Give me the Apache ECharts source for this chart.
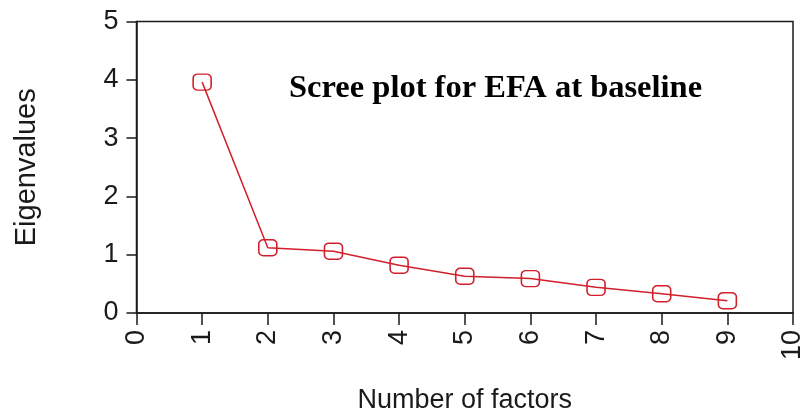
<!DOCTYPE html>
<html>
<head>
<meta charset="utf-8">
<script src="https://cdn.jsdelivr.net/npm/echarts@6/dist/echarts.min.js"></script>
<style>
  html, body { margin: 0; padding: 0; background: #fff; }
  #chart { width: 803px; height: 415px; }
</style>
</head>
<body>
<div id="chart"></div>
<script>
// Factor number and its eigenvalue
const factors = [1, 2, 3, 4, 5, 6, 7, 8, 9];
const eigenvalues = [3.96, 1.12, 1.06, 0.82, 0.63, 0.59, 0.44, 0.33, 0.21];

const titleText = 'Scree plot for EFA at baseline';
const xName = 'Number of factors';
const yName = 'Eigenvalues';

const red = '#d21f2c';
const ink = '#1a1a1a';

const chart = echarts.init(document.getElementById('chart'), null, { renderer: 'canvas' });

chart.setOption({
  animation: false,
  backgroundColor: '#fff',
  title: {
    text: titleText,
    left: 289,
    top: 72,
    padding: 0,
    textStyle: {
      fontFamily: 'Liberation Serif',
      fontWeight: 'bold',
      fontSize: 32.5,
      color: '#000'
    }
  },
  grid: {
    left: 136.5,
    right: 10,
    top: 21.5,
    bottom: 102,
    containLabel: false,
    outerBoundsMode: 'none',
    show: true,
    borderColor: ink,
    borderWidth: 1.5,
    backgroundColor: '#fff'
  },
  xAxis: {
    type: 'value',
    min: 0,
    max: 10,
    interval: 1,
    name: xName,
    nameLocation: 'middle',
    nameGap: 74,
    nameTextStyle: { fontFamily: 'Liberation Sans', fontSize: 27, color: ink },
    axisLine: { show: true, lineStyle: { color: ink, width: 1.5 } },
    axisTick: { show: true, length: 12, lineStyle: { color: ink, width: 1.5 } },
    axisLabel: {
      rotate: 90,
      margin: 17,
      fontFamily: 'Liberation Sans',
      fontSize: 27,
      color: ink
    },
    splitLine: { show: false }
  },
  yAxis: {
    type: 'value',
    min: 0,
    max: 5,
    interval: 1,
    name: yName,
    nameLocation: 'middle',
    nameRotate: 90,
    nameGap: 95,
    nameTextStyle: { fontFamily: 'Liberation Sans', fontSize: 29, color: ink },
    axisLine: { show: true, lineStyle: { color: ink, width: 1.5 } },
    axisTick: { show: true, length: 10, lineStyle: { color: ink, width: 1.5 } },
    axisLabel: {
      margin: 18,
      fontFamily: 'Liberation Sans',
      fontSize: 27,
      color: ink
    },
    splitLine: { show: false }
  },
  series: [{
    type: 'line',
    data: factors.map((f, i) => [f, eigenvalues[i]]),
    symbol: 'roundRect',
    symbolSize: [18, 16],
    showAllSymbol: true,
    lineStyle: { color: red, width: 1.5 },
    itemStyle: { color: 'rgba(0,0,0,0)', borderColor: red, borderWidth: 1.5 },
    emphasis: { disabled: true },
    z: 3
  }]
});
</script>
</body>
</html>
